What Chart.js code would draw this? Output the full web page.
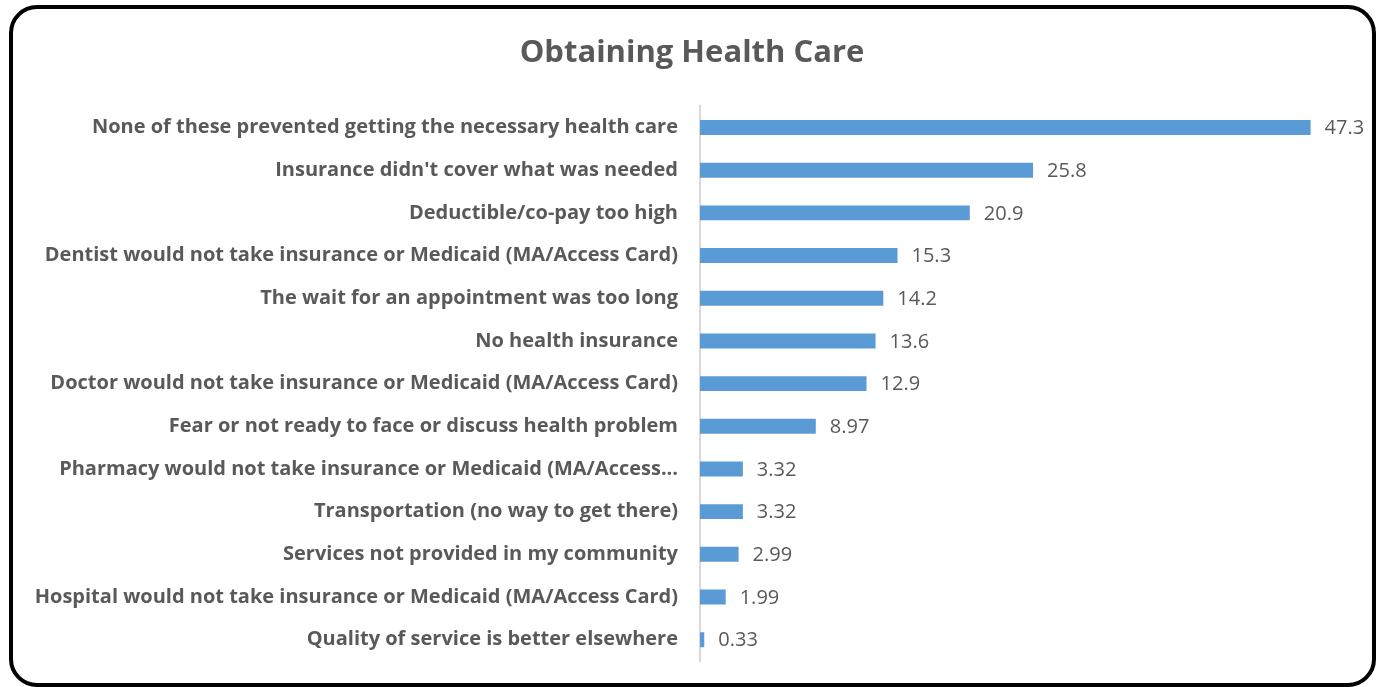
<!DOCTYPE html>
<html>
<head>
<meta charset="utf-8">
<script src="https://cdn.jsdelivr.net/npm/chart.js@4"></script>
<style>
  html, body { margin: 0; padding: 0; background: #fff; }
  #wrap { position: relative; width: 1379px; height: 687px; overflow: hidden; }
  #frame {
    position: absolute; left: 9px; top: 5px; width: 1359px; height: 674px;
    border: 4px solid #000; border-radius: 28px; box-sizing: content-box;
  }
  #chart { position: absolute; left: 0; top: 0; }
</style>
</head>
<body>
<div id="wrap">
  <div id="frame"></div>
  <canvas id="chart" width="1379" height="687"></canvas>
</div>
<script>
  // Reasons for not getting care, in percent of respondents
  const reasons = [
    "None of these prevented getting the necessary health care",
    "Insurance didn't cover what was needed",
    "Deductible/co-pay too high",
    "Dentist would not take insurance or Medicaid (MA/Access Card)",
    "The wait for an appointment was too long",
    "No health insurance",
    "Doctor would not take insurance or Medicaid (MA/Access Card)",
    "Fear or not ready to face or discuss health problem",
    "Pharmacy would not take insurance or Medicaid (MA/Access...",
    "Transportation (no way to get there)",
    "Services not provided in my community",
    "Hospital would not take insurance or Medicaid (MA/Access Card)",
    "Quality of service is better elsewhere"
  ];
  const percents = [47.3, 25.8, 20.9, 15.3, 14.2, 13.6, 12.9, 8.97, 3.32, 3.32, 2.99, 1.99, 0.33];
  const axisMax = 52.6;

  // Writes each value just past the end of its bar
  const barValues = {
    id: 'barValues',
    afterDatasetsDraw(chart) {
      const ctx = chart.ctx;
      const meta = chart.getDatasetMeta(0);
      ctx.save();
      ctx.font = '20px "Open Sans"';
      ctx.fillStyle = '#595959';
      ctx.textAlign = 'left';
      ctx.textBaseline = 'middle';
      meta.data.forEach((bar, i) => {
        ctx.fillText(String(percents[i]), bar.x + 14, bar.y + 1);
      });
      ctx.restore();
    }
  };

  new Chart(document.getElementById('chart'), {
    type: 'bar',
    data: {
      labels: reasons,
      datasets: [{
        data: percents,
        backgroundColor: '#5B9BD5',
        barPercentage: 0.7,
        categoryPercentage: 0.5
      }]
    },
    options: {
      indexAxis: 'y',
      responsive: false,
      animation: false,
      layout: { padding: { top: 8, right: 0, bottom: 26, left: 5 } },
      plugins: {
        legend: { display: false },
        tooltip: { enabled: false },
        title: {
          display: true,
          text: 'Obtaining Health Care',
          color: '#595959',
          font: { family: '"Open Sans"', size: 31, weight: 'bold' },
          padding: { top: 27, bottom: 34 }
        }
      },
      scales: {
        x: {
          min: 0,
          max: axisMax,
          display: false
        },
        y: {
          grid: { display: false, drawTicks: false },
          border: { display: true, color: '#d9d9d9', width: 2 },
          ticks: {
            color: '#595959',
            padding: 22,
            font: { family: '"Open Sans"', size: 20, weight: 'bold' }
          },
          afterFit(scale) {
            scale.width = 695;
            // label gap should not push the plot area in from top/bottom
            scale.paddingTop = 0;
            scale.paddingBottom = 0;
          }
        }
      }
    },
    plugins: [barValues]
  });
</script>
</body>
</html>
